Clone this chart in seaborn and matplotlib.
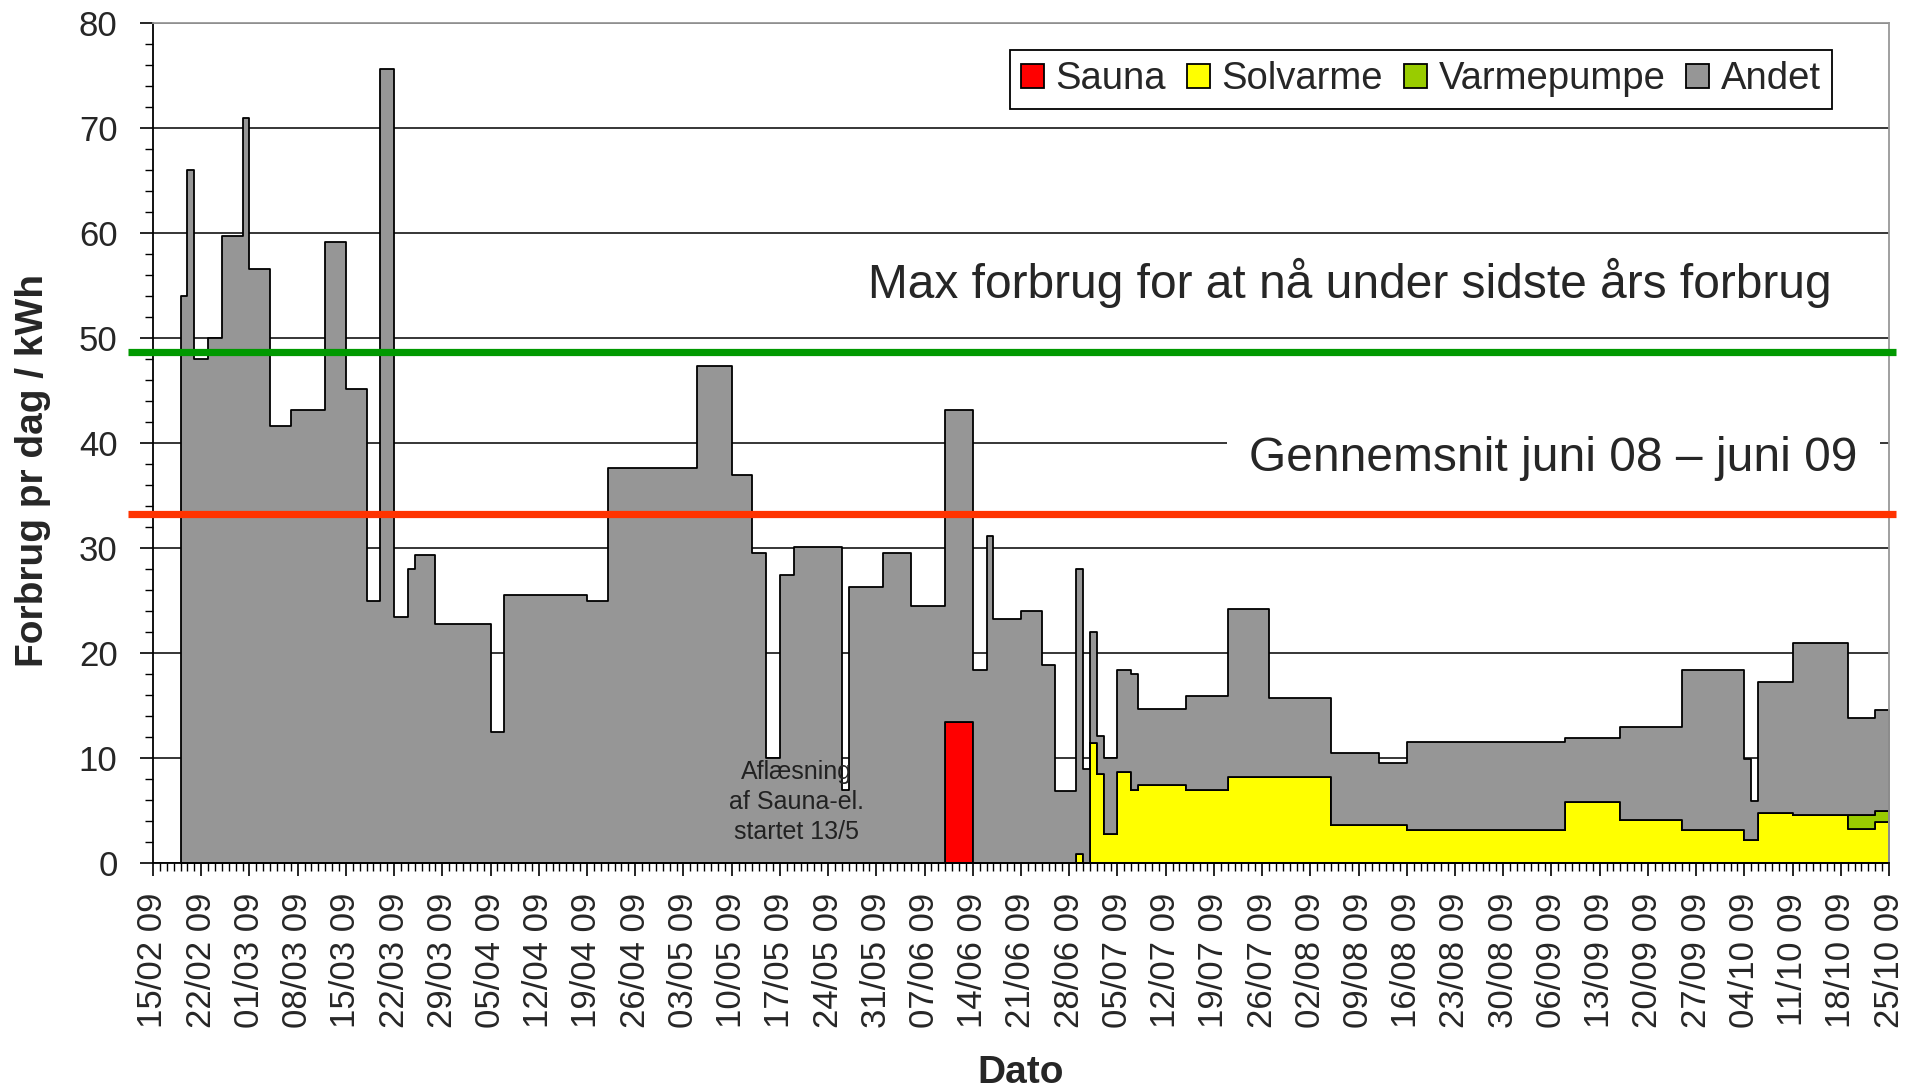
import matplotlib
matplotlib.use("Agg")
import matplotlib.pyplot as plt
import matplotlib.dates as mdates
import pandas as pd
import numpy as np
import seaborn as sns

sns.set_style("white")
plt.rcParams["font.family"] = ["Liberation Sans", "DejaVu Sans"]

# meter readings (start of each period) - last date closes the final period
read_dates = ["2009-02-19", "2009-02-20", "2009-02-21", "2009-02-23", "2009-02-25", "2009-02-28",
              "2009-03-01", "2009-03-04", "2009-03-07", "2009-03-12", "2009-03-15", "2009-03-18",
              "2009-03-20", "2009-03-22", "2009-03-24", "2009-03-25", "2009-03-28", "2009-04-05",
              "2009-04-07", "2009-04-19", "2009-04-22", "2009-05-05", "2009-05-10", "2009-05-13",
              "2009-05-15", "2009-05-17", "2009-05-19", "2009-05-26", "2009-05-27", "2009-06-01",
              "2009-06-05", "2009-06-10", "2009-06-14", "2009-06-16", "2009-06-17", "2009-06-21",
              "2009-06-24", "2009-06-26", "2009-06-29", "2009-06-30", "2009-07-01", "2009-07-02",
              "2009-07-03", "2009-07-05", "2009-07-07", "2009-07-08", "2009-07-15", "2009-07-21",
              "2009-07-27", "2009-08-05", "2009-08-12", "2009-08-16", "2009-09-08", "2009-09-16",
              "2009-09-25", "2009-10-04", "2009-10-05", "2009-10-06", "2009-10-11", "2009-10-19",
              "2009-10-23", "2009-10-25"]

# total daily consumption per period (kWh/day)
total = [54.0, 66.0, 48.0, 50.0, 59.7, 71.0,
         56.6, 41.6, 43.1, 59.1, 45.1, 25.0,
         75.6, 23.4, 28.0, 29.3, 22.8, 12.5,
         25.5, 25.0, 37.6, 47.3, 37.0, 29.5,
         10.0, 27.4, 30.1, 7.0, 26.3, 29.5,
         24.5, 43.1, 18.4, 31.1, 23.2, 24.0,
         18.9, 6.9, 28.0, 9.0, 22.0, 12.1,
         10.0, 18.4, 18.0, 14.7, 15.9, 24.2,
         15.7, 10.5, 9.5, 11.5, 11.9, 13.0,
         18.4, 9.9, 5.9, 17.2, 21.0, 13.8,
         14.6]

sauna = [0] * 31 + [13.4] + [0] * 29

solvarme = [0] * 38 + [0.9, 0.0, 11.4, 8.5, 2.8, 8.7, 7.0, 7.4, 7.0, 8.2, 8.2, 3.6,
                      3.6, 3.1, 5.8, 4.1, 3.1, 2.2, 2.2, 4.8, 4.6, 3.2, 3.9]

varmepumpe = [0] * 59 + [1.4, 1.1]

max_line = 48.65
avg_line = 33.2

dates = pd.to_datetime(read_dates)
andet = np.array(total) - np.array(sauna) - np.array(solvarme) - np.array(varmepumpe)

layers = [("Sauna", sauna, "#FF0000"),
          ("Solvarme", solvarme, "#FFFF00"),
          ("Varmepumpe", varmepumpe, "#99CC00"),
          ("Andet", andet, "#969696")]

fig = plt.figure(figsize=(19.19, 10.91), dpi=100)
ax = fig.add_axes([153 / 1919, 228 / 1091, 1736 / 1919, 840 / 1091])

base = np.zeros(len(dates))
for name, vals, col in layers:
    v = np.append(np.array(vals, dtype=float), vals[-1])
    top = base + v
    ax.fill_between(dates, base, top, step="post", facecolor=col, edgecolor="black",
                    linewidth=1.3, label=name, zorder=2)
    base = top

# reference lines (run slightly past the plot area like the original)
ytr = ax.get_yaxis_transform()
ax.plot([-0.0144, 1.004], [max_line, max_line], color="#009900", lw=5.2, transform=ytr,
        clip_on=False, zorder=5, solid_capstyle="butt")
ax.plot([-0.0144, 1.004], [avg_line, avg_line], color="#FF3300", lw=5.2, transform=ytr,
        clip_on=False, zorder=5, solid_capstyle="butt")

ax.text(0.967, 53.8, "Max forbrug for at nå under sidste års forbrug", transform=ytr,
        ha="right", va="baseline", fontsize=34.5, zorder=4)
ax.text(0.982, 37.3, "Gennemsnit juni 08 \u2013 juni 09", transform=ytr,
        ha="right", va="baseline", fontsize=34.5, zorder=4,
        bbox=dict(facecolor="white", edgecolor="none", pad=16))

ax.text(pd.Timestamp("2009-02-15") + pd.Timedelta(days=93.4), 5.8,
        "Aflæsning\naf Sauna-el.\nstartet 13/5", ha="center", va="center",
        fontsize=18, color="#222222", linespacing=1.3, zorder=4)

# axes
ax.set_ylim(0, 80)
ax.set_yticks(np.arange(0, 81, 10))
ax.yaxis.set_minor_locator(matplotlib.ticker.MultipleLocator(2))
ax.set_xlim(pd.Timestamp("2009-02-15"), pd.Timestamp("2009-10-25"))
ax.set_xticks(pd.date_range("2009-02-15", "2009-10-25", freq="7D"))
ax.xaxis.set_major_formatter(mdates.DateFormatter("%d/%m %y"))
ax.xaxis.set_minor_locator(mdates.DayLocator())

ax.yaxis.grid(True, color="black", lw=1.1)
ax.xaxis.grid(False)
ax.set_axisbelow(True)

ax.tick_params(axis="both", which="major", direction="out", length=9.5, width=1.2,
               color="black", labelsize=25, left=True, bottom=True)
ax.tick_params(axis="both", which="minor", direction="out", length=6, width=1.0,
               color="black", left=True, bottom=True)
ax.tick_params(axis="x", which="major", pad=12, labelrotation=90)
ax.tick_params(axis="y", which="major", pad=16)

for side in ["left", "bottom"]:
    ax.spines[side].set_color("black")
    ax.spines[side].set_linewidth(1.3)
for side in ["top", "right"]:
    ax.spines[side].set_color("#999999")
    ax.spines[side].set_linewidth(1.3)

ax.set_ylabel("Forbrug pr dag / kWh", fontsize=28, fontweight="bold")
ax.yaxis.set_label_coords(-0.059, 0.467)
ax.set_xlabel("Dato", fontsize=28, fontweight="bold", va="top")
ax.xaxis.set_label_coords(0.5, -0.228)

leg = ax.legend(loc="upper right", bbox_to_anchor=(0.9672, 0.9679), borderaxespad=0,
                ncol=4, fontsize=27.5, handlelength=0.6, handleheight=0.6,
                handletextpad=0.3, columnspacing=0.55, borderpad=0.3,
                fancybox=False, framealpha=1, edgecolor="black")
leg.get_frame().set_linewidth(1.3)

fig.savefig("out.png", dpi=100)
